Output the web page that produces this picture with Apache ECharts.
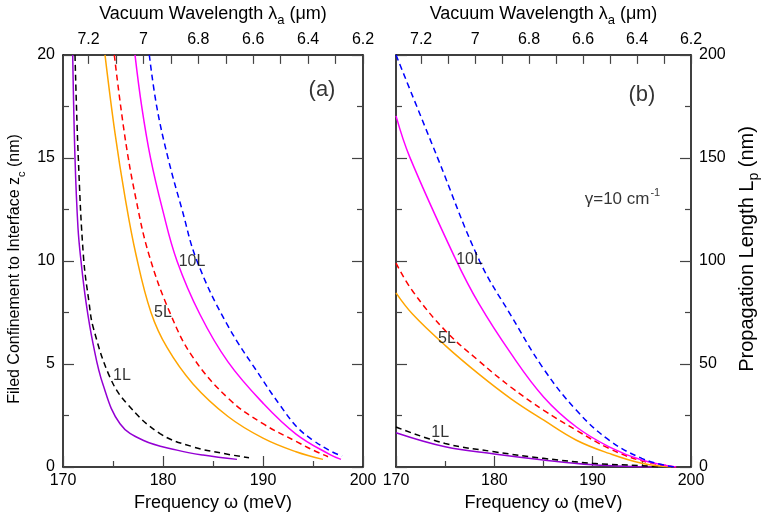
<!DOCTYPE html>
<html><head><meta charset="utf-8">
<script src="https://cdn.jsdelivr.net/npm/echarts@6/dist/echarts.min.js"></script>
<style>html,body{margin:0;padding:0;background:#fff}#c{width:762px;height:523px}</style>
</head><body><div id="c"></div>
<script>
// ---------- Panel (a): field confinement z_c (nm) ----------
const a_1L_solid_w = [170.97,171.2,171.5,171.8,172.3,173.0,174.0,175.7,178.0,181.4,184.0,187.4];
const a_1L_solid_z = [20,15,11.6,10.0,8.0,6.0,4.0,2.1,1.3,0.82,0.58,0.37];
const a_1L_dash_w  = [171.2,171.53,172.05,172.6,173.03,174.7,176.4,179.7,183.0,186.0,188.6];
const a_1L_dash_z  = [20,15,10.2,8.0,6.76,4.35,3.07,1.62,0.98,0.66,0.45];
const a_5L_solid_w = [174.2,175.2,176.2,177.3,178.8,180.4,183.0,186.5,190.0,193.3,196.0];
const a_5L_solid_z = [20,16.2,13.1,10.3,7.5,5.8,4.03,2.45,1.4,0.74,0.37];
const a_5L_dash_w  = [175.13,176.2,177.3,178.6,180.7,183.0,186.6,190.0,193.4,195.0,196.5];
const a_5L_dash_z  = [20,16,13,10.3,7.48,5.32,3.3,2.1,1.22,0.82,0.5];
const a_10L_solid_w = [177.2,177.87,178.75,179.95,181.4,183.7,186.5,190.0,193.3,196.7,197.8];
const a_10L_solid_z = [20,17.5,15,12.5,10,7.4,5.1,3.1,1.6,0.6,0.37];
const a_10L_dash_w  = [178.63,179.37,180.5,181.9,183.4,186.4,190.0,191.7,193.4,195.0,196.7,197.9];
const a_10L_dash_z  = [20,17.5,15,12.5,10,6.93,4.2,3.0,1.94,1.30,0.79,0.53];

// ---------- Panel (b): propagation length L_p (nm) ----------
const b_1L_solid_w = [170,175,180,185,190,195,196];
const b_1L_solid_L = [16.6,9.8,6.3,3.4,1.1,0.1,0];
const b_1L_dash_w  = [170,175,180,185,190,195,197];
const b_1L_dash_L  = [19.4,11.4,7.4,4.2,1.8,0.6,0];
const b_5L_solid_w = [170,171.7,175.05,178.4,181.7,185.03,188.35,191.67,195,198];
const b_5L_solid_L = [84.5,74.1,58.8,45.2,33.1,22.7,13,6.6,1.8,0];
const b_5L_dash_w  = [170,171.7,175.05,178.4,181.7,185.03,188.35,191.67,195,198.5];
const b_5L_dash_L  = [98.9,85.3,66,51.6,38.7,27.5,17.8,9.0,3.0,0];
const b_10L_solid_w = [170,171.4,176.05,178.4,181.7,185.03,188.35,191.67,195,198.5];
const b_10L_solid_L = [170.4,150.4,101,79.5,55,33.9,19.4,9.8,3.4,0];
const b_10L_dash_w  = [170,174.2,178.5,181.7,185.03,188.35,191.67,195,197.6,198.5];
const b_10L_dash_L  = [200,150.4,100,73.5,47.5,27.5,13,4.2,0.5,0];

// ---------- axes ----------
const freqMin = 170, freqMax = 200, freqStep = 10;
const lamMin = 6.2, lamMax = 1239.84 / 170, lamStep = 0.1;
const zMin = 0, zMax = 20, zStep = 5;
const LMin = 0, LMax = 200, LStep = 50;

// ---------- annotations (data coordinates) ----------
const a_labels = [[182.9, 9.98, '10L'], [180.0, 7.47, '5L'], [175.9, 4.43, '1L']];
const a_tag = [195.9, 18.31, '(a)'];
const b_labels = [[177.48, 100.7, '10L'], [175.18, 62.2, '5L'], [174.49, 16.9, '1L']];
const b_tag = [195.0, 180.7, '(b)'];
const b_gamma = [193.03, 130.6, 'γ=10 cm', '-1'];

const zip = (w, v) => w.map((x, i) => [x, v[i]]);
const FONT = 'Liberation Sans, Arial, Helvetica, sans-serif';
const C = { purple: '#9400D3', black: '#000000', orange: '#FFA500', red: '#FF0000', magenta: '#FF00FF', blue: '#0000FF' };

function line(name, data, color, dashed, xi, yi) {
  return {
    type: 'line', name, data, xAxisIndex: xi, yAxisIndex: yi,
    showSymbol: false, symbol: 'none', smooth: 0.4,
    lineStyle: { color, width: 1.5, type: dashed ? [6, 4] : 'solid' },
    clip: true, silent: true, z: 3
  };
}

const axisLineS = { show: true, onZero: false, lineStyle: { color: '#000', width: 1.5 } };
const tickS = (len) => ({ show: true, inside: true, length: len, lineStyle: { color: '#444', width: 1.2 } });
const minorS = (len) => ({ show: true, splitNumber: 2, length: len, lineStyle: { color: '#444', width: 1.2 } });
const lblS = { color: '#000', fontSize: 16, fontFamily: FONT };
const subRich = (fs) => ({
  t: { fontSize: fs, fontFamily: FONT, color: '#000', lineHeight: fs + 3, verticalAlign: 'bottom' },
  s: { fontSize: Math.round(fs * 0.7), fontFamily: FONT, color: '#000', lineHeight: 12, verticalAlign: 'bottom', padding: [0, 0, -4, 0] }
});

function freqAxis(gi) {
  return {
    type: 'value', gridIndex: gi, position: 'bottom', min: freqMin, max: freqMax, interval: freqStep,
    axisLine: axisLineS, axisTick: tickS(11), minorTick: minorS(6), splitLine: { show: false },
    axisLabel: { ...lblS, margin: 6 },
    name: 'Frequency ω (meV)', nameLocation: 'middle', nameGap: 26,
    nameTextStyle: { color: '#000', fontSize: 18, fontFamily: FONT }
  };
}
function lamAxis(gi) {
  return {
    type: 'value', gridIndex: gi, position: 'top', inverse: true, min: lamMin, max: lamMax, interval: lamStep,
    axisLine: axisLineS, axisTick: tickS(9), splitLine: { show: false },
    axisLabel: { ...lblS, margin: 7, showMaxLabel: false,
      formatter: v => (Math.round(v * 10) % 2 === 0) ? String(+v.toFixed(1)) : '' },
    name: '{t|Vacuum Wavelength λ}{s|a}{t| (μm)}', nameLocation: 'middle', nameGap: 30,
    nameTextStyle: { color: '#000', fontSize: 18, fontFamily: FONT, rich: subRich(18) }
  };
}

const option = {
  backgroundColor: '#fff',
  animation: false,
  grid: [
    { left: 63, top: 52, width: 300, height: 415 },
    { left: 396, top: 52, width: 301, height: 415 }
  ],
  xAxis: [freqAxis(0), lamAxis(0), freqAxis(1), lamAxis(1)],
  yAxis: [
    { type: 'value', gridIndex: 0, position: 'left', min: zMin, max: zMax, interval: zStep,
      axisLine: axisLineS, axisTick: tickS(11), minorTick: minorS(6), splitLine: { show: false },
      axisLabel: { ...lblS, margin: 8 },
      name: '{t|Filed Confinement to Interface z}{s|c}{t| (nm)}', nameLocation: 'middle', nameGap: 40,
      nameTextStyle: { color: '#000', fontSize: 16, fontFamily: FONT, rich: subRich(16), padding: [0, 16, 0, 0] } },
    { type: 'value', gridIndex: 0, position: 'right', min: zMin, max: zMax, interval: zStep,
      axisLine: axisLineS, axisTick: tickS(11), minorTick: minorS(6), splitLine: { show: false },
      axisLabel: { show: false } },
    { type: 'value', gridIndex: 1, position: 'left', min: LMin, max: LMax, interval: LStep,
      axisLine: axisLineS, axisTick: tickS(11), minorTick: minorS(6), splitLine: { show: false },
      axisLabel: { show: false } },
    { type: 'value', gridIndex: 1, position: 'right', min: LMin, max: LMax, interval: LStep,
      axisLine: axisLineS, axisTick: tickS(11), minorTick: minorS(6), splitLine: { show: false },
      axisLabel: { ...lblS, margin: 8 },
      name: '{t|Propagation Length L}{s|p}{t| (nm)}', nameLocation: 'middle', nameGap: 43,
      nameTextStyle: { color: '#000', fontSize: 20, fontFamily: FONT, rich: subRich(20), padding: [0, 0, 0, 24] } }
  ],
  series: [
    line('a1Ls', zip(a_1L_solid_w, a_1L_solid_z), C.purple, false, 0, 0),
    line('a1Ld', zip(a_1L_dash_w, a_1L_dash_z), C.black, true, 0, 0),
    line('a5Ls', zip(a_5L_solid_w, a_5L_solid_z), C.orange, false, 0, 0),
    line('a5Ld', zip(a_5L_dash_w, a_5L_dash_z), C.red, true, 0, 0),
    line('a10Ls', zip(a_10L_solid_w, a_10L_solid_z), C.magenta, false, 0, 0),
    line('a10Ld', zip(a_10L_dash_w, a_10L_dash_z), C.blue, true, 0, 0),
    line('b1Ls', zip(b_1L_solid_w, b_1L_solid_L), C.purple, false, 2, 3),
    line('b1Ld', zip(b_1L_dash_w, b_1L_dash_L), C.black, true, 2, 3),
    line('b5Ls', zip(b_5L_solid_w, b_5L_solid_L), C.orange, false, 2, 3),
    line('b5Ld', zip(b_5L_dash_w, b_5L_dash_L), C.red, true, 2, 3),
    line('b10Ls', zip(b_10L_solid_w, b_10L_solid_L), C.magenta, false, 2, 3),
    line('b10Ld', zip(b_10L_dash_w, b_10L_dash_L), C.blue, true, 2, 3),
    { type: 'scatter', xAxisIndex: 0, yAxisIndex: 0, symbolSize: 1, itemStyle: { color: 'rgba(0,0,0,0)' }, silent: true, z: 5,
      data: a_labels.map(d => ({ value: [d[0], d[1]], name: d[2] })).concat([{ value: [a_tag[0], a_tag[1]], name: a_tag[2], label: { fontSize: 22 } }]),
      label: { show: true, position: 'inside', formatter: p => p.name, color: '#000', fontSize: 16, fontFamily: FONT } },
    { type: 'scatter', xAxisIndex: 2, yAxisIndex: 3, symbolSize: 1, itemStyle: { color: 'rgba(0,0,0,0)' }, silent: true, z: 5,
      data: b_labels.map(d => ({ value: [d[0], d[1]], name: d[2] }))
        .concat([{ value: [b_tag[0], b_tag[1]], name: b_tag[2], label: { fontSize: 22 } }])
        .concat([{ value: [b_gamma[0], b_gamma[1]], name: 'gamma',
          label: { formatter: '{m|' + b_gamma[2] + '}{u|' + b_gamma[3] + '}',
            rich: { m: { fontSize: 17, fontFamily: FONT, color: '#000', lineHeight: 20, verticalAlign: 'bottom' },
                    u: { fontSize: 11, fontFamily: FONT, color: '#000', lineHeight: 20, verticalAlign: 'top', padding: [0, 0, 6, 1] } } } }]),
      label: { show: true, position: 'inside', formatter: p => p.name, color: '#000', fontSize: 16, fontFamily: FONT } }
  ]
};
const chart = echarts.init(document.getElementById('c'), null, { renderer: 'canvas' });
chart.setOption(option);
</script>
</body></html>
